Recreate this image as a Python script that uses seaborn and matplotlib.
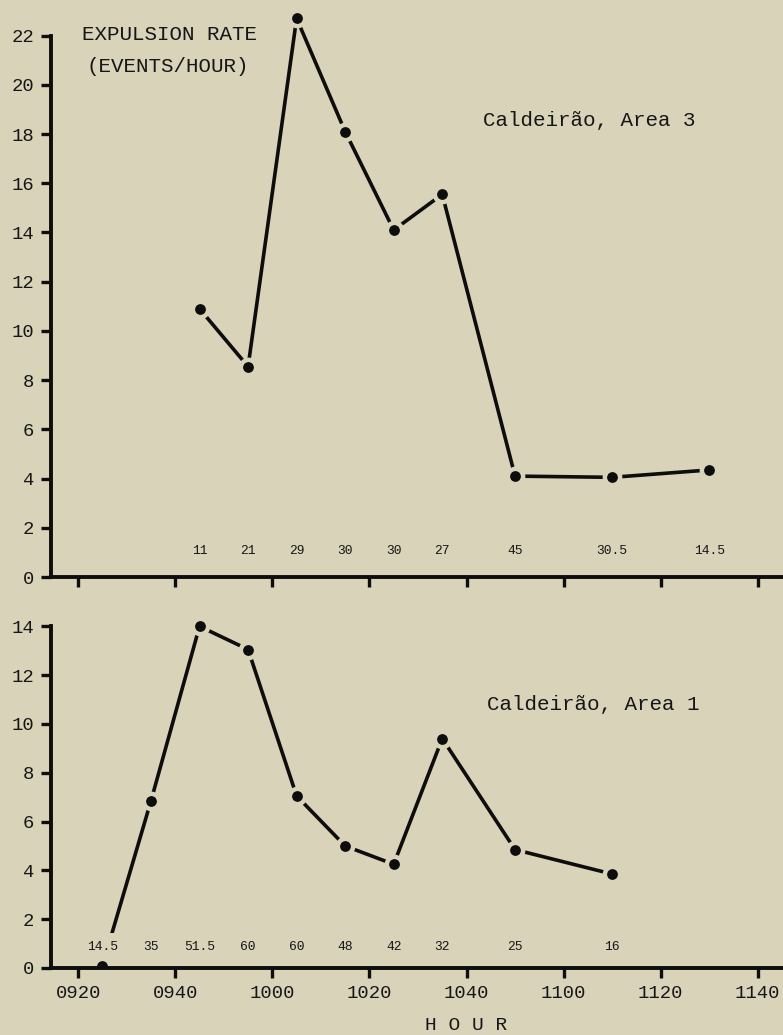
import matplotlib
matplotlib.use("Agg")
import matplotlib.pyplot as plt
import seaborn as sns
import pandas as pd

# ---- data (minutes after 09:00) ----
top_times = [45, 55, 65, 75, 85, 95, 110, 130, 150]
top_rates = [10.9, 8.55, 22.7, 18.1, 14.1, 15.55, 4.1, 4.05, 4.35]
top_counts = ["11", "21", "29", "30", "30", "27", "45", "30.5", "14.5"]

bottom_times = [25, 35, 45, 55, 65, 75, 85, 95, 110, 130]
bottom_rates = [0.1, 6.85, 14.0, 13.05, 7.05, 5.0, 4.25, 9.4, 4.85, 3.85]
bottom_counts = ["14.5", "35", "51.5", "60", "60", "48", "42", "32", "25", "16"]

tick_minutes = [20, 40, 60, 80, 100, 120, 140, 160]
tick_labels = ["0920", "0940", "1000", "1020", "1040", "1100", "1120", "1140"]

top_yticks = list(range(0, 23, 2))
bottom_yticks = list(range(0, 15, 2))

BG = "#d9d3ba"
INK = "#0d0d0d"
TXT = "#161616"

sns.set_style("ticks")
plt.rcParams['font.family'] = ['Liberation Mono', 'DejaVu Sans Mono']

W, H = 783, 1035
fig = plt.figure(figsize=(W / 100, H / 100), dpi=100, facecolor=BG)

ax1 = fig.add_axes([51 / W, (H - 577) / H, (W - 51) / W, 566 / H])
ax2 = fig.add_axes([51 / W, (H - 968) / H, (W - 51) / W, 349 / H])

panels = [
    (ax1, top_times, top_rates, top_counts, top_yticks, 23.0, 22, 1.06, False),
    (ax2, bottom_times, bottom_rates, bottom_counts, bottom_yticks, 14.3, 14, 0.86, True),
]

for ax, times, rates, counts, yticks, ytop, spine_top, label_y, show_x in panels:
    ax.set_facecolor(BG)
    df = pd.DataFrame({"time": times, "rate": rates})
    sns.lineplot(data=df, x="time", y="rate", ax=ax, color=INK, linewidth=2.6,
                 marker="o", markersize=11.0, markeredgewidth=3.2,
                 markeredgecolor=BG, markerfacecolor=INK, sort=True)
    for t, c in zip(times, counts):
        ax.text(t, label_y, c, ha="center", va="center", fontsize=9.4,
                color=TXT,
                bbox=dict(boxstyle="square,pad=0.6", facecolor=BG, edgecolor="none"))
    ax.set_xlim(14.4, 165.2)
    ax.set_ylim(0, ytop)
    ax.set_yticks(yticks)
    ax.set_yticklabels([str(v) for v in yticks])
    ax.set_xticks(tick_minutes)
    if show_x:
        ax.set_xticklabels(tick_labels)
    else:
        ax.set_xticklabels([])
    for s in ["top", "right"]:
        ax.spines[s].set_visible(False)
    ax.spines["left"].set_bounds(0, spine_top)
    for s in ["left", "bottom"]:
        ax.spines[s].set_linewidth(2.8)
        ax.spines[s].set_color(INK)
    ax.tick_params(axis="both", direction="out", length=7, width=2.4,
                   color=INK, labelsize=13.6, labelcolor=TXT, pad=5)
    ax.set_xlabel("")
    ax.set_ylabel("")
    ax.grid(False)

fig.text(82 / W, 1 - 35 / H, "EXPULSION RATE", ha="left", va="center",
         fontsize=15, color=TXT)
fig.text(86 / W, 1 - 67 / H, "(EVENTS/HOUR)", ha="left", va="center",
         fontsize=15, color=TXT)
fig.text(483 / W, 1 - 120 / H, "Caldeirão, Area 3", ha="left", va="center",
         fontsize=15, color=TXT)
fig.text(487 / W, 1 - 705 / H, "Caldeirão, Area 1", ha="left", va="center",
         fontsize=15, color=TXT)
fig.text(466 / W, 1 - 1025 / H, "H O U R", ha="center", va="center",
         fontsize=14, color=TXT)

fig.savefig("out.png", dpi=100, facecolor=BG)
